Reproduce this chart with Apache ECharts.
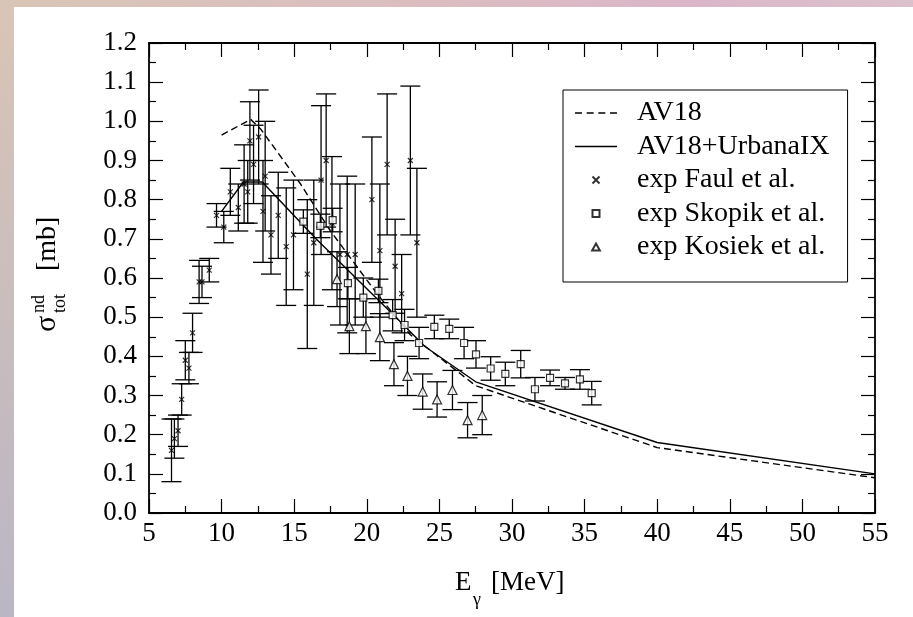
<!DOCTYPE html>
<html>
<head>
<meta charset="utf-8">
<title>sigma nd tot</title>
<script src="https://cdn.jsdelivr.net/npm/echarts@6/dist/echarts.min.js"></script>
<style>
  html, body { margin: 0; padding: 0; background: #fff; }
  #main { position: absolute; left: 0; top: 0; width: 913px; height: 617px; }
  .band-top { position: absolute; left: 0; top: 0; width: 913px; height: 7px;
    background: linear-gradient(to right, #d9c5b6 0%, #dbbdc0 45%, #dab6c8 75%, #dcc0cb 100%); }
  .band-left { position: absolute; left: 0; top: 0; width: 14px; height: 617px;
    background: linear-gradient(to bottom, #d9c5b6 0%, #c9bdbd 50%, #bab6c4 100%); }
</style>
</head>
<body>
<div class="band-top"></div>
<div class="band-left"></div>
<div id="main"></div>
<script>
// theory curves
const av18E = [10, 12, 12.7, 15.4, 17.5, 20.7, 23, 27.5, 40, 55]
const av18Sigma = [0.965, 1.005, 0.98, 0.842, 0.72, 0.56, 0.455, 0.325, 0.167, 0.09]
const urbE = [10, 11.5, 12.8, 16.5, 22, 24, 27.5, 40, 55]
const urbSigma = [0.77, 0.845, 0.845, 0.70, 0.50, 0.425, 0.335, 0.18, 0.10]

// exp Faul et al.
const faulE = [6.55, 6.75, 7.0, 7.25, 7.5, 7.75, 8.0, 8.45, 8.65, 9.15, 9.65, 10.15, 10.6, 11.15, 11.55, 11.8, 11.95, 12.2, 12.55, 12.85, 13.0, 13.4, 13.9, 14.45, 14.95, 15.9, 16.35, 16.85, 17.2, 17.6, 18.15, 18.65, 19.2, 20.35, 20.9, 21.4, 21.95, 22.4, 23.0, 23.45]
const faulSigma = [0.16, 0.19, 0.21, 0.29, 0.39, 0.37, 0.46, 0.59, 0.59, 0.62, 0.76, 0.73, 0.82, 0.78, 0.84, 0.82, 0.95, 0.89, 0.96, 0.77, 0.86, 0.71, 0.76, 0.68, 0.71, 0.61, 0.69, 0.85, 0.90, 0.74, 0.66, 0.66, 0.66, 0.80, 0.67, 0.89, 0.63, 0.56, 0.90, 0.69]
const faulErr = [0.08, 0.05, 0.04, 0.04, 0.05, 0.04, 0.05, 0.055, 0.04, 0.03, 0.03, 0.04, 0.06, 0.06, 0.10, 0.08, 0.10, 0.10, 0.12, 0.13, 0.14, 0.10, 0.11, 0.15, 0.14, 0.19, 0.16, 0.19, 0.17, 0.17, 0.18, 0.20, 0.18, 0.16, 0.17, 0.18, 0.12, 0.10, 0.19, 0.19]

// exp Skopik et al.
const skopikE = [15.63, 16.8, 17.65, 18.7, 19.76, 20.8, 21.78, 22.6, 23.6, 24.65, 25.68, 26.7, 27.52, 28.53, 29.54, 30.6, 31.58, 32.62, 33.65, 34.68, 35.49]
const skopikSigma = [0.744, 0.733, 0.748, 0.587, 0.55, 0.567, 0.505, 0.48, 0.434, 0.475, 0.47, 0.434, 0.405, 0.369, 0.355, 0.38, 0.316, 0.345, 0.331, 0.341, 0.306]
const skopikErr = [0.03, 0.03, 0.03, 0.04, 0.05, 0.03, 0.04, 0.04, 0.04, 0.03, 0.025, 0.04, 0.035, 0.03, 0.03, 0.035, 0.03, 0.02, 0.015, 0.025, 0.03]

// exp Kosiek et al.
const kosiekE = [17.95, 18.8, 19.94, 20.9, 21.87, 22.8, 23.85, 24.84, 25.9, 26.94, 27.95]
const kosiekSigma = [0.597, 0.477, 0.477, 0.449, 0.38, 0.35, 0.31, 0.29, 0.314, 0.237, 0.25]
const kosiekErr = [0.07, 0.07, 0.07, 0.06, 0.055, 0.05, 0.045, 0.045, 0.05, 0.045, 0.05]

// axis ticks
const xTicks = { min: 5, max: 55, interval: 5 }
const yTicks = { min: 0, max: 1.2, interval: 0.1 }

const FONT = 'Liberation Serif'
// marker shapes (path so the legend keeps the aspect ratio)
const CROSS = 'path://M0,0L10,10M10,0L0,10'
const SQUARE = 'path://M0,0L10,0L10,10L0,10Z'
const TRIANGLE = 'path://M5,0L10,9L0,9Z'
// legend line samples
const SOLID_ICON = 'path://M0,0h42v1.4h-42z'
const DASH_ICON = 'path://M0,0h7v1.4h-7zM11.67,0h7v1.4h-7zM23.33,0h7v1.4h-7zM35,0h7v1.4h-7z'

const chart = echarts.init(document.getElementById('main'), null, { renderer: 'canvas' })

// 误差棒 custom series
function errorSeries (xs, ys, es) {
  return {
    type: 'custom',
    silent: true,
    z: 2,
    encode: { x: 0, y: [1, 2] },
    data: xs.map((x, i) => [x, ys[i] - es[i], ys[i] + es[i]]),
    renderItem (params, api) {
      const top = api.coord([api.value(0), api.value(2)])
      const bot = api.coord([api.value(0), api.value(1)])
      const half = 10
      const st = { stroke: '#000', lineWidth: 1.3 }
      return {
        type: 'group',
        children: [
          { type: 'line', shape: { x1: top[0], y1: top[1], x2: bot[0], y2: bot[1] }, style: st },
          { type: 'line', shape: { x1: top[0] - half, y1: top[1], x2: top[0] + half, y2: top[1] }, style: st },
          { type: 'line', shape: { x1: bot[0] - half, y1: bot[1], x2: bot[0] + half, y2: bot[1] }, style: st }
        ]
      }
    }
  }
}

function pairs (xs, ys) {
  return xs.map((x, i) => [x, ys[i]])
}

const axisCommon = {
  axisLine: { show: true, onZero: false, lineStyle: { color: '#000', width: 1.8 } },
  axisTick: { show: true, inside: true, length: 14, lineStyle: { color: '#000', width: 1.2 } },
  minorTick: { show: true, splitNumber: 2, length: 7, lineStyle: { color: '#000', width: 1.2 } },
  splitLine: { show: false }
}
const labelStyle = { fontFamily: FONT, fontSize: 27, color: '#000' }

const option = {
  animation: false,
  backgroundColor: 'transparent',
  grid: { left: 149, right: 38, top: 43, bottom: 104 },
  xAxis: [
    Object.assign({ type: 'value', position: 'bottom', axisLabel: Object.assign({ margin: 7 }, labelStyle) }, xTicks, axisCommon),
    Object.assign({ type: 'value', position: 'top', axisLabel: { show: false } }, xTicks, axisCommon)
  ],
  yAxis: [
    Object.assign({ type: 'value', position: 'left', axisLabel: Object.assign({ margin: 12, formatter: v => v.toFixed(1) }, labelStyle) }, yTicks, axisCommon),
    Object.assign({ type: 'value', position: 'right', axisLabel: { show: false } }, yTicks, axisCommon)
  ],
  legend: {
    data: [
      { name: 'AV18', icon: DASH_ICON, itemStyle: { color: '#000', borderWidth: 0 } },
      { name: 'AV18+UrbanaIX', icon: SOLID_ICON, itemStyle: { color: '#000', borderWidth: 0 } },
      { name: 'exp Faul et al.', icon: CROSS },
      { name: 'exp Skopik et al.', icon: SQUARE },
      { name: 'exp Kosiek et al.', icon: TRIANGLE }
    ],
    orient: 'vertical',
    left: 563,
    top: 90,
    padding: [8, 18, 20, 12],
    itemWidth: 42,
    itemHeight: 7,
    itemGap: 3.5,
    borderColor: '#000',
    borderWidth: 1,
    selectedMode: false,
    textStyle: { fontFamily: FONT, fontSize: 28, color: '#000', lineHeight: 30, padding: [0, 0, 0, 15] }
  },
  series: [
    errorSeries(faulE, faulSigma, faulErr),
    errorSeries(skopikE, skopikSigma, skopikErr),
    errorSeries(kosiekE, kosiekSigma, kosiekErr),
    {
      name: 'AV18',
      type: 'line',
      symbol: 'none',
      z: 3,
      lineStyle: { color: '#000', width: 1.4, type: [7, 4] },
      itemStyle: { color: '#000' },
      data: pairs(av18E, av18Sigma)
    },
    {
      name: 'AV18+UrbanaIX',
      type: 'line',
      symbol: 'none',
      z: 3,
      lineStyle: { color: '#000', width: 1.4 },
      itemStyle: { color: '#000' },
      data: pairs(urbE, urbSigma)
    },
    {
      name: 'exp Faul et al.',
      type: 'scatter',
      symbol: CROSS,
      symbolSize: 5,
      z: 4,
      itemStyle: { color: 'rgba(0,0,0,0)', borderColor: '#000', borderWidth: 1.2 },
      data: pairs(faulE, faulSigma)
    },
    {
      name: 'exp Skopik et al.',
      type: 'scatter',
      symbol: SQUARE,
      symbolSize: 7,
      z: 4,
      itemStyle: { color: '#fff', borderColor: '#000', borderWidth: 1.2 },
      data: pairs(skopikE, skopikSigma)
    },
    {
      name: 'exp Kosiek et al.',
      type: 'scatter',
      symbol: TRIANGLE,
      symbolSize: 9,
      z: 4,
      itemStyle: { color: '#fff', borderColor: '#000', borderWidth: 1.2 },
      data: pairs(kosiekE, kosiekSigma)
    }
  ],
  // 坐标轴标题 (上下标)
  graphic: [
    {
      type: 'group',
      x: 455,
      y: 596,
      children: [
        { type: 'text', x: 0, y: 0, style: { text: 'E', fontFamily: FONT, fontSize: 27, fill: '#000', verticalAlign: 'bottom' } },
        { type: 'text', x: 18, y: 13, style: { text: 'γ', fontFamily: FONT, fontSize: 18, fill: '#000', verticalAlign: 'bottom' } },
        { type: 'text', x: 36, y: 0, style: { text: '[MeV]', fontFamily: FONT, fontSize: 27, fill: '#000', verticalAlign: 'bottom' } }
      ]
    },
    {
      type: 'group',
      x: 62,
      y: 332,
      rotation: Math.PI / 2,
      children: [
        { type: 'text', x: 0, y: 0, style: { text: 'σ', fontFamily: FONT, fontSize: 30, fill: '#000', verticalAlign: 'bottom' } },
        { type: 'text', x: 19, y: -14, style: { text: 'nd', fontFamily: FONT, fontSize: 18, fill: '#000', verticalAlign: 'bottom' } },
        { type: 'text', x: 19, y: 7, style: { text: 'tot', fontFamily: FONT, fontSize: 18, fill: '#000', verticalAlign: 'bottom' } },
        { type: 'text', x: 61, y: 0, style: { text: '[mb]', fontFamily: FONT, fontSize: 28, fill: '#000', verticalAlign: 'bottom' } }
      ]
    }
  ]
}

chart.setOption(option)
</script>
</body>
</html>
